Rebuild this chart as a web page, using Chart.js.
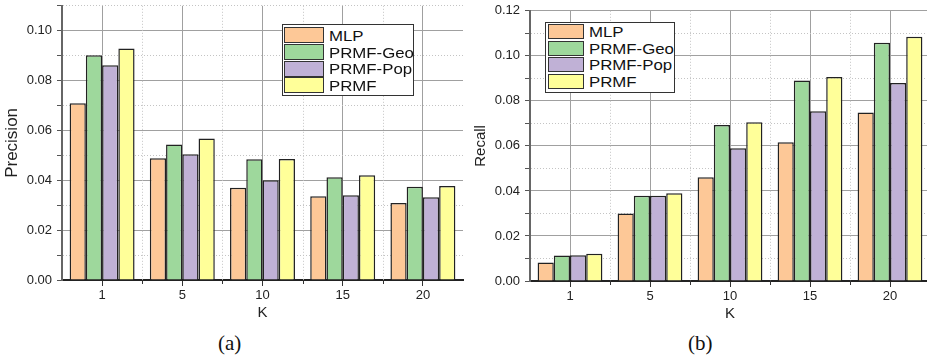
<!DOCTYPE html>
<html>
<head>
<meta charset="utf-8">
<script src="https://cdn.jsdelivr.net/npm/chart.js@4"></script>
<style>
  html, body { margin: 0; padding: 0; background: #fff; overflow: hidden; }
  #wrap { position: relative; width: 927px; height: 359px; overflow: hidden; }
  canvas { position: absolute; }
  #precChart { left: 0; top: -7px; }
  #recallChart { left: 470px; top: -2px; }
  .legend { position: absolute; background: #fff; border: 1px solid #333; box-sizing: border-box;
            font-family: 'Liberation Sans', Arial, sans-serif; font-size: 15px; color: #111; }
  .legend .row { position: absolute; display: flex; align-items: center; }
  .legend .sw { box-sizing: border-box; border: 1.5px solid #333; }
  .legend .lbl { margin-left: 5px; transform: scaleX(1.12); transform-origin: left center; white-space: nowrap; }
  .cap { position: absolute; font-family: 'Liberation Serif', 'Times New Roman', serif; font-size: 21px; color: #111; }
</style>
</head>
<body>
<div id="wrap">
  <canvas id="precChart" width="470" height="337"></canvas>
  <canvas id="recallChart" width="470" height="333"></canvas>
  <div id="precLegend" class="legend" style="left:282px;top:24px;width:132px;height:72px"></div>
  <div id="recallLegend" class="legend" style="left:545px;top:22px;width:130px;height:71px"></div>
  <div class="cap" style="left:218px;top:331px">(a)</div>
  <div class="cap" style="left:688px;top:331px">(b)</div>
</div>
<script>
const kLabels = ['1', '5', '10', '15', '20'];
const seriesNames = ['MLP', 'PRMF-Geo', 'PRMF-Pop', 'PRMF'];
const seriesColors = ['#FDC897', '#9ED89C', '#C0B1D6', '#FFFF99'];

// precision (a)
const precMLP  = [0.0709, 0.0488, 0.0370, 0.0336, 0.0309];
const precGeo  = [0.0902, 0.0544, 0.0484, 0.0412, 0.0374];
const precPop  = [0.0862, 0.0504, 0.0400, 0.0340, 0.0332];
const precPRMF = [0.0929, 0.0568, 0.0485, 0.0420, 0.0377];

// recall (b)
const recMLP  = [0.0082, 0.0300, 0.0461, 0.0616, 0.0748];
const recGeo  = [0.0113, 0.0379, 0.0693, 0.0890, 0.1058];
const recPop  = [0.0114, 0.0379, 0.0590, 0.0754, 0.0879];
const recPRMF = [0.0121, 0.0390, 0.0705, 0.0906, 0.1085];

Chart.defaults.font.family = "'Liberation Sans', Arial, sans-serif";
Chart.defaults.color = '#222';

// dotted lines between the K groups, plus short ticks under the axis
const boundaryLines = {
  id: 'boundaryLines',
  beforeDatasetsDraw(chart) {
    const x = chart.scales.x, area = chart.chartArea, ctx = chart.ctx;
    const n = x.ticks.length;
    const half = (x.getPixelForValue(1) - x.getPixelForValue(0)) / 2;
    ctx.save();
    ctx.lineWidth = 1;
    for (let i = 0; i < n - 1; i++) {
      const px = Math.round(x.getPixelForValue(i) + half) + 0.5;
      ctx.strokeStyle = '#c4c4c4';
      ctx.setLineDash([1, 2]);
      ctx.beginPath(); ctx.moveTo(px, area.top); ctx.lineTo(px, area.bottom); ctx.stroke();
      ctx.strokeStyle = '#333';
      ctx.setLineDash([]);
      ctx.beginPath(); ctx.moveTo(px, area.bottom); ctx.lineTo(px, area.bottom + 4); ctx.stroke();
    }
    ctx.restore();
  }
};

function makeChart(id, title, titleSize, values, yMax, yWidth, pad) {
  const datasets = values.map((data, i) => ({
    label: seriesNames[i],
    data: data,
    backgroundColor: seriesColors[i],
    borderColor: '#222',
    borderWidth: 1.5,
    categoryPercentage: 0.81,
    barPercentage: 1.0
  }));
  return new Chart(document.getElementById(id), {
    type: 'bar',
    data: { labels: kLabels, datasets: datasets },
    options: {
      responsive: false,
      animation: false,
      devicePixelRatio: 1,
      layout: { padding: pad },
      plugins: { legend: { display: false }, tooltip: { enabled: false } },
      scales: {
        x: {
          offset: true,
          grid: { offset: false, color: '#a0a0a0', lineWidth: 1, tickColor: '#333', tickLength: 6 },
          border: { color: '#222', width: 2 },
          ticks: { font: { size: 13 }, padding: 2, color: '#222' },
          title: { display: true, text: 'K', font: { size: 15 }, color: '#222' },
          afterFit: s => { s.height = 46; }
        },
        y: {
          min: 0, max: yMax,
          grid: {
            color: c => (c.index % 2 === 0 ? '#a0a0a0' : '#c4c4c4'),
            lineWidth: 1, tickColor: '#555', tickLength: 5
          },
          border: {
            color: '#666', width: 2,
            dash: c => (c.type === 'tick' && c.index % 2 === 1 ? [1, 2] : [])
          },
          ticks: {
            stepSize: 0.01, maxTicksLimit: 20, autoSkip: false,
            font: { size: 13 }, padding: 5, color: '#222',
            callback: (v, i) => (i % 2 === 0 ? v.toFixed(2) : '')
          },
          title: { display: true, text: title, font: { size: titleSize }, color: '#222', padding: { top: 2, bottom: 2 } },
          afterFit: s => { s.width = yWidth; }
        }
      }
    },
    plugins: [boundaryLines]
  });
}

function makeLegend(id, rowTops, swW, swH, left) {
  const box = document.getElementById(id);
  seriesNames.forEach((name, i) => {
    const row = document.createElement('div');
    row.className = 'row';
    row.style.left = left + 'px';
    row.style.top = rowTops[i] + 'px';
    row.style.height = swH + 'px';
    row.innerHTML = `<div class="sw" style="width:${swW}px;height:${swH}px;background:${seriesColors[i]}"></div><span class="lbl">${name}</span>`;
    box.appendChild(row);
  });
}

makeChart('precChart', 'Precision', 17, [precMLP, precGeo, precPop, precPRMF], 0.11, 62,
  { left: 0, right: 7, top: 6, bottom: 4 });
makeChart('recallChart', 'Recall', 15, [recMLP, recGeo, recPop, recPRMF], 0.12, 60,
  { left: 0, right: 10, top: 3, bottom: 4 });

makeLegend('precLegend', [2.3, 19, 35.7, 52.3], 40, 16, 0.5);
makeLegend('recallLegend', [1, 17.7, 34.3, 51], 36, 15, 1.7);
</script>
</body>
</html>
